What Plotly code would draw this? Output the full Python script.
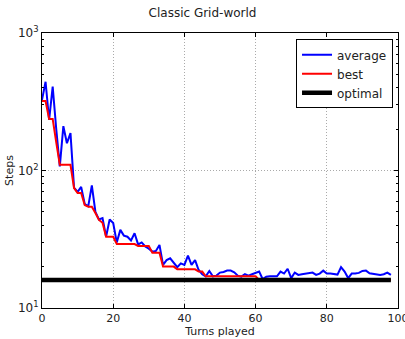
import plotly.graph_objects as go

turns = list(range(0, 99))
average = [326, 442, 233, 408, 200, 107, 210, 158, 187, 75,
           70, 76, 57, 55, 78, 50, 44, 45, 33, 44,
           41.5, 30, 37, 33.6, 33, 31, 35, 29, 30, 28,
           27, 25.7, 26, 28.7, 20.6, 22.3, 23, 21.5, 19.8, 21.1,
           20.6, 24, 20.6, 22.3, 18.9, 17.6, 17, 18.6, 17, 17.2,
           18.1, 18.3, 18.7, 18.7, 18.2, 17.2, 16.9, 17.6, 17.2, 17.6,
           18, 18.4, 16.2, 16.9, 17, 17, 17, 18.4, 17.8, 19.3,
           16.5, 18.1, 17.4, 17.6, 17.8, 17.9, 18.1, 17.4, 17.8, 18.7,
           17.8, 17.8, 17.6, 17.5, 19.8, 18.4, 16.5, 17.8, 17.8, 18,
           18.6, 18.7, 17.9, 17.8, 17.6, 17.4, 17.6, 18.1, 17.4]
best = [320, 320, 237, 237, 160, 110, 110, 110, 110, 74.6,
        68.5, 68.5, 56, 54.5, 54.5, 49, 43.7, 41.7, 33, 33,
        33, 29.2, 29.2, 29.2, 29.2, 29.2, 29.2, 28.3, 28.3, 28.3,
        28.3, 25.2, 25.2, 25.2, 20, 20, 20, 20, 19.1, 19.1,
        19.1, 19.1, 19.1, 19.1, 18.4, 18.4] + [17] * 15 + [16] * 38
optimal = [16] * 99

fig = go.Figure()
fig.add_trace(go.Scatter(x=turns, y=average, mode="lines", name="average",
                         line=dict(color="#0000ff", width=2)))
fig.add_trace(go.Scatter(x=turns, y=best, mode="lines", name="best",
                         line=dict(color="#ff0000", width=2)))
fig.add_trace(go.Scatter(x=turns, y=optimal, mode="lines", name="optimal",
                         line=dict(color="#000000", width=4.5)))

font = dict(family="DejaVu Sans", size=11, color="#222222")
fig.update_layout(
    width=405, height=339,
    margin=dict(l=42, r=7, t=33, b=31),
    paper_bgcolor="white", plot_bgcolor="white",
    font=font,
    showlegend=True,
    title=dict(text="Classic Grid-world", x=0.5, xanchor="center",
               y=1 - 13 / 339, yanchor="middle",
               font=dict(family="DejaVu Sans", size=12, color="#222222")),
    legend=dict(x=0.986, y=0.977, xanchor="right", yanchor="top",
                bgcolor="white", bordercolor="black", borderwidth=1,
                font=dict(family="DejaVu Sans", size=12, color="#222222"),
                tracegroupgap=0, itemwidth=30),
)
grid = dict(showgrid=True, gridcolor="#aaaaaa", griddash="1px,2px", gridwidth=1)
fig.update_xaxes(range=[0, 100], tickvals=[0, 20, 40, 60, 80, 100], automargin=False,
                 ticklabeloverflow="allow",
                 ticks="inside", ticklen=4, tickcolor="black",
                 showline=True, linecolor="black", linewidth=1, mirror="allticks",
                 zeroline=False, **grid,
                 title=dict(text="Turns played", standoff=2,
                            font=dict(family="DejaVu Sans", size=11, color="#222222")))
fig.update_yaxes(type="log", range=[1, 3], tickvals=[10, 100, 1000], automargin=False,
                 ticklabeloverflow="allow",
                 ticktext=["10<sup>1</sup>", "10<sup>2</sup>", "10<sup>3</sup>"],
                 tickfont=dict(size=12),
                 ticks="inside", ticklen=4, tickcolor="black",
                 showline=True, linecolor="black", linewidth=1, mirror="allticks",
                 zeroline=False, **grid,
                 minor=dict(ticks="inside", ticklen=2, tickcolor="black",
                            tickvals=[20, 30, 40, 50, 60, 70, 80, 90,
                                      200, 300, 400, 500, 600, 700, 800, 900],
                            showgrid=False),
                 title=dict(text="Steps", standoff=2,
                            font=dict(family="DejaVu Sans", size=11, color="#222222")))
fig.write_html("out.html", config={"displayModeBar": False},
               post_script="document.documentElement.style.margin='0';"
                           "document.body.style.margin='0';"
                           "document.body.style.overflow='hidden';")
